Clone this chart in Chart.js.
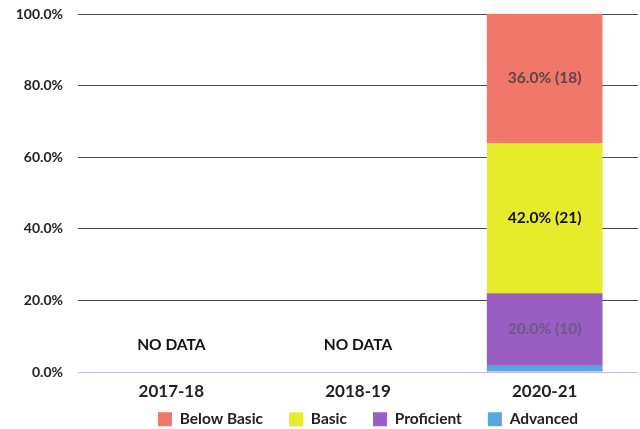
<!DOCTYPE html>
<html>
<head>
<meta charset="utf-8">
<script src="https://cdn.jsdelivr.net/npm/chart.js@4/dist/chart.umd.min.js"></script>
<style>
html,body{margin:0;padding:0;background:#fff;}
#wrap{width:640px;height:429px;position:relative;}
</style>
</head>
<body>
<div id="wrap"><canvas id="c" width="640" height="429"></canvas></div>
<script>
const categories = ['2017-18', '2018-19', '2020-21'];
const seriesNames = ['Advanced', 'Proficient', 'Basic', 'Below Basic'];
const advanced   = [null, null, 2.0];
const proficient = [null, null, 20.0];
const basic      = [null, null, 42.0];
const belowBasic = [null, null, 36.0];
const advancedN   = [null, null, 1];
const proficientN = [null, null, 10];
const basicN      = [null, null, 21];
const belowBasicN = [null, null, 18];
const yTicks = [0, 20, 40, 60, 80, 100];
const noDataLabel = 'NO DATA';

const colors = {
  'Below Basic': '#F2776B',
  'Basic': '#E6EC2C',
  'Proficient': '#9A5DC4',
  'Advanced': '#5AA6DC'
};
const labelColors = {
  'Below Basic': '#5a4444',
  'Basic': '#111111',
  'Proficient': '#6a5a80',
  'Advanced': '#333'
};

const valueSets = [advanced, proficient, basic, belowBasic];
const countSets = [advancedN, proficientN, basicN, belowBasicN];

const datasets = seriesNames.map((name, i) => ({
  label: name,
  data: valueSets[i],
  counts: countSets[i],
  backgroundColor: colors[name],
  borderWidth: 0,
  barPercentage: 0.775,
  categoryPercentage: 0.8
}));

const segLabels = {
  id: 'segLabels',
  afterDatasetsDraw(chart) {
    const ctx = chart.ctx;
    ctx.save();
    ctx.textAlign = 'center';
    ctx.textBaseline = 'middle';
    chart.data.datasets.forEach((ds, di) => {
      const meta = chart.getDatasetMeta(di);
      meta.data.forEach((el, idx) => {
        const v = ds.data[idx];
        if (v == null || v < 5) return;
        const p = el.getProps(['x', 'y', 'base'], true);
        ctx.font = 'bold 15.5px Lato';
        ctx.fillStyle = labelColors[ds.label];
        ctx.fillText(v.toFixed(1) + '% (' + ds.counts[idx] + ')', p.x, (p.y + p.base) / 2);
      });
    });
    const xs = chart.scales.x, ys = chart.scales.y;
    categories.forEach((c, idx) => {
      const has = chart.data.datasets.some(ds => ds.data[idx] != null);
      if (has) return;
      ctx.font = 'bold 15.5px Lato';
      ctx.fillStyle = '#111';
      ctx.fillText(noDataLabel, xs.getPixelForValue(idx), ys.getPixelForValue(7.5));
    });
    ctx.restore();
  }
};

const legendShift = {
  id: 'legendShift',
  afterLayout(chart) {
    const lg = chart.legend;
    if (lg) { lg.top -= 25; lg.bottom -= 25; lg.left += 49; lg.right += 49; }
  }
};

new Chart(document.getElementById('c'), {
  type: 'bar',
  data: { labels: categories, datasets },
  options: {
    responsive: false,
    animation: false,
    devicePixelRatio: 1,
    layout: { padding: { top: 14, right: 2, left: 0, bottom: -33 } },
    scales: {
      x: {
        stacked: true,
        grid: { display: false, drawTicks: false },
        border: { display: false },
        ticks: { font: { family: 'Lato', size: 17, weight: 'bold' }, color: '#222', padding: 9 }
      },
      y: {
        stacked: true,
        min: 0, max: 100,
        afterBuildTicks(scale) { scale.ticks = yTicks.map(v => ({ value: v })); },
        afterFit(scale) { scale.width = 78; scale.paddingTop = 0; scale.paddingBottom = 0; },
        border: { display: false },
        grid: {
          drawTicks: false,
          color: ctx => ctx.tick && ctx.tick.value === 0 ? '#c9b7ea' : '#4a4a4a',
          lineWidth: 1
        },
        ticks: {
          padding: 15,
          font: { family: 'Lato', size: 14, weight: 'bold' },
          color: '#222',
          callback: v => Number(v).toFixed(1) + '%'
        }
      }
    },
    plugins: {
      legend: {
        position: 'bottom',
        reverse: true,
        labels: {
          boxWidth: 14, boxHeight: 14,
          padding: 26,
          font: { family: 'Lato', size: 15.5, weight: 'bold' },
          color: '#222'
        }
      },
      tooltip: { enabled: false }
    }
  },
  plugins: [segLabels, legendShift]
});
</script>
</body>
</html>
